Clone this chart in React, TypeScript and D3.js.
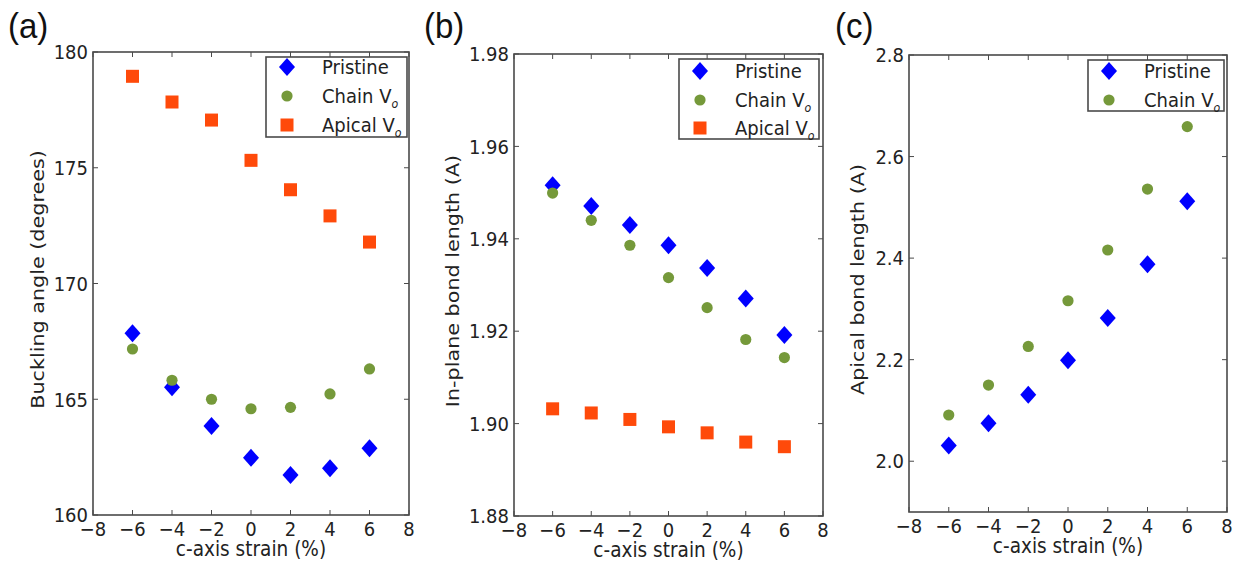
import React from "react";
import * as d3 from "d3";

// c-axis strain (%)
const strain = [-6, -4, -2, 0, 2, 4, 6];

// (a) buckling angle (degrees)
const buckPristine = [167.85, 165.52, 163.84, 162.47, 161.73, 162.02, 162.88];
const buckChain = [167.17, 165.82, 165.0, 164.59, 164.65, 165.23, 166.31];
const buckApical = [178.95, 177.84, 177.06, 175.32, 174.05, 172.92, 171.79];

// (b) in-plane bond length (A)
const inPristine = [1.9516, 1.9471, 1.943, 1.9386, 1.9337, 1.9271, 1.9192];
const inChain = [1.9499, 1.944, 1.9386, 1.9316, 1.9251, 1.9182, 1.9143];
const inApical = [1.9032, 1.9023, 1.9009, 1.8993, 1.898, 1.896, 1.895];

// (c) apical bond length (A)
const apPristine = [2.031, 2.075, 2.131, 2.199, 2.282, 2.388, 2.512];
const apChain = [2.091, 2.15, 2.226, 2.316, 2.416, 2.536, 2.659];

const xTicks = [-8, -6, -4, -2, 0, 2, 4, 6, 8];
const yTicksA = [160, 165, 170, 175, 180];
const yTicksB = [1.88, 1.9, 1.92, 1.94, 1.96, 1.98];
const yTicksC = [2.0, 2.2, 2.4, 2.6, 2.8];

const BLUE = "#0000ff";
const GREEN = "#75993a";
const ORANGE = "#ff4a0a";
const FRAME = "#4a4a4a";
const TEXT = "#222";
const FONT = "DejaVu Sans, sans-serif";
const STRETCH = 1.12; // the figure is a bit taller than wide

type Kind = "diamond" | "circle" | "square";
interface Series {
  name: string;
  kind: Kind;
  color: string;
  values: number[];
}

function Marker({ kind, color, x, y }: { kind: Kind; color: string; x: number; y: number }) {
  if (kind === "diamond") {
    const p = d3.path();
    p.moveTo(x, y - 9);
    p.lineTo(x + 8, y);
    p.lineTo(x, y + 9);
    p.lineTo(x - 8, y);
    p.closePath();
    return <path d={p.toString()} fill={color} />;
  }
  if (kind === "circle") return <circle cx={x} cy={y} r={5.6} fill={color} />;
  return <rect x={x - 6.5} y={y - 6.5} width={13} height={13} fill={color} />;
}

// text stretched vertically around its anchor point
function T({
  x,
  y,
  rotate = 0,
  anchor = "start",
  size = 18,
  dy,
  children,
}: {
  x: number;
  y: number;
  rotate?: number;
  anchor?: string;
  size?: number;
  dy?: string;
  children: React.ReactNode;
}) {
  return (
    <text
      transform={`translate(${x},${y}) rotate(${rotate}) scale(${rotate ? STRETCH : 1},${rotate ? 1 : STRETCH})`}
      textAnchor={anchor}
      dy={dy}
      fontFamily={FONT}
      fontSize={size}
      fill={TEXT}
    >
      {children}
    </text>
  );
}

function LegendLabel({ name }: { name: string }) {
  if (name === "Pristine") return <>{name}</>;
  return (
    <>
      {name}
      <tspan fontSize={11} fontStyle="italic" dy={4}>
        o
      </tspan>
    </>
  );
}

interface PanelProps {
  tag: string;
  tagX: number;
  left: number;
  right: number;
  top: number;
  bottom: number;
  yDomain: [number, number];
  yTicks: number[];
  yFmt: (v: number) => string;
  yLabel: string;
  yLabelX: number;
  series: Series[];
  legend: { x0: number; x1: number; y0: number; rows: number[] };
}

function Panel(props: PanelProps) {
  const { left, right, top, bottom, series, legend } = props;
  const x = d3.scaleLinear().domain([-8, 8]).range([left, right]);
  const y = d3.scaleLinear().domain(props.yDomain).range([bottom, top]);
  const fmtX = (v: number) => (v < 0 ? "\u2212" + Math.abs(v) : String(v));
  const tk = 5;
  const legH = legend.rows.length * 29 - 7;

  return (
    <g>
      <text
        transform={`translate(${props.tagX},38) scale(1,1.05)`}
        fontFamily="Liberation Sans, Arial, sans-serif"
        fontSize={33}
        fill="#111"
      >
        {props.tag}
      </text>

      {/* markers */}
      {series.map((s) =>
        s.values.map((v, i) => (
          <Marker key={s.name + i} kind={s.kind} color={s.color} x={x(strain[i])} y={y(v)} />
        ))
      )}

      {/* ticks, inward on all four sides */}
      {xTicks.map((t) => (
        <g key={"x" + t} stroke={FRAME} strokeWidth={1}>
          <line x1={x(t)} x2={x(t)} y1={bottom} y2={bottom - tk} />
          <line x1={x(t)} x2={x(t)} y1={top} y2={top + tk} />
        </g>
      ))}
      {props.yTicks.map((t) => (
        <g key={"y" + t} stroke={FRAME} strokeWidth={1}>
          <line x1={left} x2={left + tk} y1={y(t)} y2={y(t)} />
          <line x1={right} x2={right - tk} y1={y(t)} y2={y(t)} />
        </g>
      ))}

      <rect x={left} y={top} width={right - left} height={bottom - top} fill="none" stroke={FRAME} strokeWidth={1.6} />

      {/* tick labels */}
      {xTicks.map((t) => (
        <T key={"xl" + t} x={x(t)} y={bottom + 21} anchor="middle">
          {fmtX(t)}
        </T>
      ))}
      {props.yTicks.map((t) => (
        <T key={"yl" + t} x={left - 5} y={y(t)} dy="0.36em" anchor="end">
          {props.yFmt(t)}
        </T>
      ))}

      {/* axis labels */}
      <T x={(left + right) / 2} y={bottom + 41} anchor="middle" size={18.5}>
        c-axis strain (%)
      </T>
      <T x={props.yLabelX} y={(top + bottom) / 2 - 4} rotate={-90} anchor="middle" size={18.5}>
        {props.yLabel}
      </T>

      {/* legend */}
      <rect
        x={legend.x0}
        y={legend.y0}
        width={legend.x1 - legend.x0}
        height={legH}
        fill="#fff"
        stroke={FRAME}
        strokeWidth={1.6}
      />
      {series.map((s, i) => (
        <g key={"lg" + s.name}>
          <Marker kind={s.kind} color={s.color} x={legend.x0 + 21} y={legend.rows[i]} />
          <T x={legend.x0 + 56} y={legend.rows[i]} dy="0.36em">
            <LegendLabel name={s.name} />
          </T>
        </g>
      ))}
    </g>
  );
}

export default function App() {
  const pristine = (values: number[]): Series => ({ name: "Pristine", kind: "diamond", color: BLUE, values });
  const chain = (values: number[]): Series => ({ name: "Chain V", kind: "circle", color: GREEN, values });
  const apical = (values: number[]): Series => ({ name: "Apical V", kind: "square", color: ORANGE, values });

  return (
    <svg
      width={1235}
      height={561}
      style={{ position: "absolute", left: 0, top: 0, background: "#fff" }}
    >
      <Panel
        tag="(a)"
        tagX={8}
        left={93}
        right={409}
        top={52}
        bottom={515}
        yDomain={[160, 180]}
        yTicks={yTicksA}
        yFmt={(v) => String(v)}
        yLabel="Buckling angle (degrees)"
        yLabelX={44}
        series={[pristine(buckPristine), chain(buckChain), apical(buckApical)]}
        legend={{ x0: 266, x1: 407, y0: 57, rows: [67, 96, 125] }}
      />
      <Panel
        tag="(b)"
        tagX={424}
        left={514}
        right={823}
        top={54}
        bottom={516}
        yDomain={[1.88, 1.98]}
        yTicks={yTicksB}
        yFmt={d3.format(".2f")}
        yLabel="In-plane bond length (A)"
        yLabelX={459}
        series={[pristine(inPristine), chain(inChain), apical(inApical)]}
        legend={{ x0: 679, x1: 819, y0: 59, rows: [71, 100, 128] }}
      />
      <Panel
        tag="(c)"
        tagX={835}
        left={909}
        right={1227}
        top={55}
        bottom={512}
        yDomain={[1.9, 2.8]}
        yTicks={yTicksC}
        yFmt={d3.format(".1f")}
        yLabel="Apical bond length (A)"
        yLabelX={864}
        series={[pristine(apPristine), chain(apChain)]}
        legend={{ x0: 1088, x1: 1224, y0: 60, rows: [71, 100] }}
      />
    </svg>
  );
}
